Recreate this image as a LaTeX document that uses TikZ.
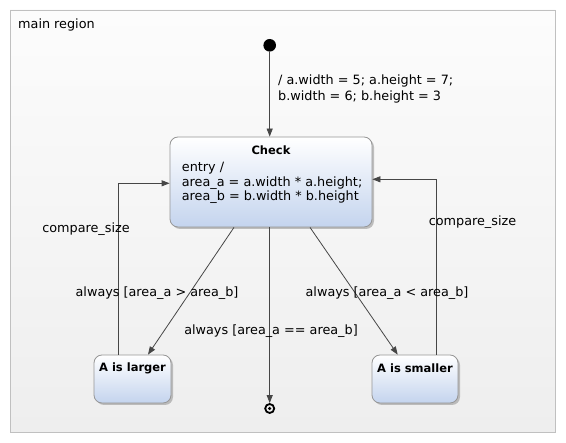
\documentclass[tikz,border=0pt]{standalone}
\usepackage{fontspec}
\setmainfont{DejaVu Sans}
\usetikzlibrary{arrows.meta,shadows}
\definecolor{regionborder}{RGB}{192,192,192}
\definecolor{regiontop}{RGB}{252,252,252}
\definecolor{regionbottom}{RGB}{238,238,238}
\definecolor{statetop}{RGB}{255,255,255}
\definecolor{statebottom}{RGB}{196,212,238}
\definecolor{stateborder}{RGB}{150,150,150}
\definecolor{linecol}{RGB}{70,70,70}
\begin{document}
\begin{tikzpicture}[x=1pt,y=-1pt,
  statebox/.style={draw=stateborder, line width=0.8pt, rounded corners=8pt,
    top color=statetop, bottom color=statebottom,
    drop shadow={shadow xshift=2pt, shadow yshift=-2pt, fill=black!40, opacity=0.6},
    inner sep=0pt},
  trans/.style={draw=linecol, line width=0.8pt, -{Triangle[length=8pt,width=6pt]}},
  lbl/.style={font=\fontsize{12.8}{14}\selectfont, inner sep=0pt},
  titletext/.style={font=\fontsize{11.5}{14}\selectfont\bfseries, inner sep=0pt},
]
\useasboundingbox (0,0) rectangle (566,443);
\fill[white] (0,0) rectangle (566,443);
\draw[draw=regionborder, top color=regiontop, bottom color=regionbottom] (10,10) rectangle (555,432);
\node[lbl, anchor=west] (regionlabel) at (18,25) {main region};

\node[circle, fill=black, minimum size=12.6pt, inner sep=0pt] (init) at (269.7,45.3) {};

\node[statebox, minimum width=202pt, minimum height=90pt] (check) at (271,182) {};
\node[titletext] (checktitle) at (271,150) {Check};
\node[lbl, anchor=west, align=left, font=\fontsize{12.8}{14.5}\selectfont] (checkbody) at (181.7,183)
  {entry /\\area\_a = a.width * a.height;\\area\_b = b.width * b.height};

\node[statebox, minimum width=77pt, minimum height=48pt] (larger) at (132.5,379) {};
\node[titletext] (largertitle) at (132.5,368) {A is larger};

\node[statebox, minimum width=86pt, minimum height=48pt] (smaller) at (415,379) {};
\node[titletext] (smallertitle) at (415,368) {A is smaller};

\node[circle, draw=black, line width=1.8pt, minimum size=9pt, inner sep=0pt] (final) at (269.7,408.5) {};
\node[circle, fill=black, minimum size=3.5pt, inner sep=0pt] (finaldot) at (final) {};

\draw[trans] (init) -- (init |- check.north);
\draw[trans] ([xshift=-37pt]check.south) -- ([xshift=15.5pt]larger.north);
\draw[trans] ([xshift=39pt]check.south) -- ([xshift=-17.3pt]smaller.north);
\draw[trans] (check.south -| final) -- (final.north);
\draw[trans] ([xshift=-14.2pt]larger.north) |- ([yshift=-1.3pt]check.west);
\draw[trans] ([xshift=21.7pt]smaller.north) |- ([yshift=2.7pt]check.east);

\node[lbl, anchor=west, align=left, font=\fontsize{12.8}{16.3}\selectfont] (initlabel) at (278,89)
  {/ a.width = 5; a.height = 7;\\b.width = 6; b.height = 3};
\node[lbl] (cmpleft) at (86,229) {compare\_size};
\node[lbl] (gtlabel) at (157,293) {always [area\_a > area\_b]};
\node[lbl] (eqlabel) at (271,331) {always [area\_a == area\_b]};
\node[lbl] (ltlabel) at (387,293) {always [area\_a < area\_b]};
\node[lbl] (cmpright) at (472.5,222) {compare\_size};
\end{tikzpicture}
\end{document}
